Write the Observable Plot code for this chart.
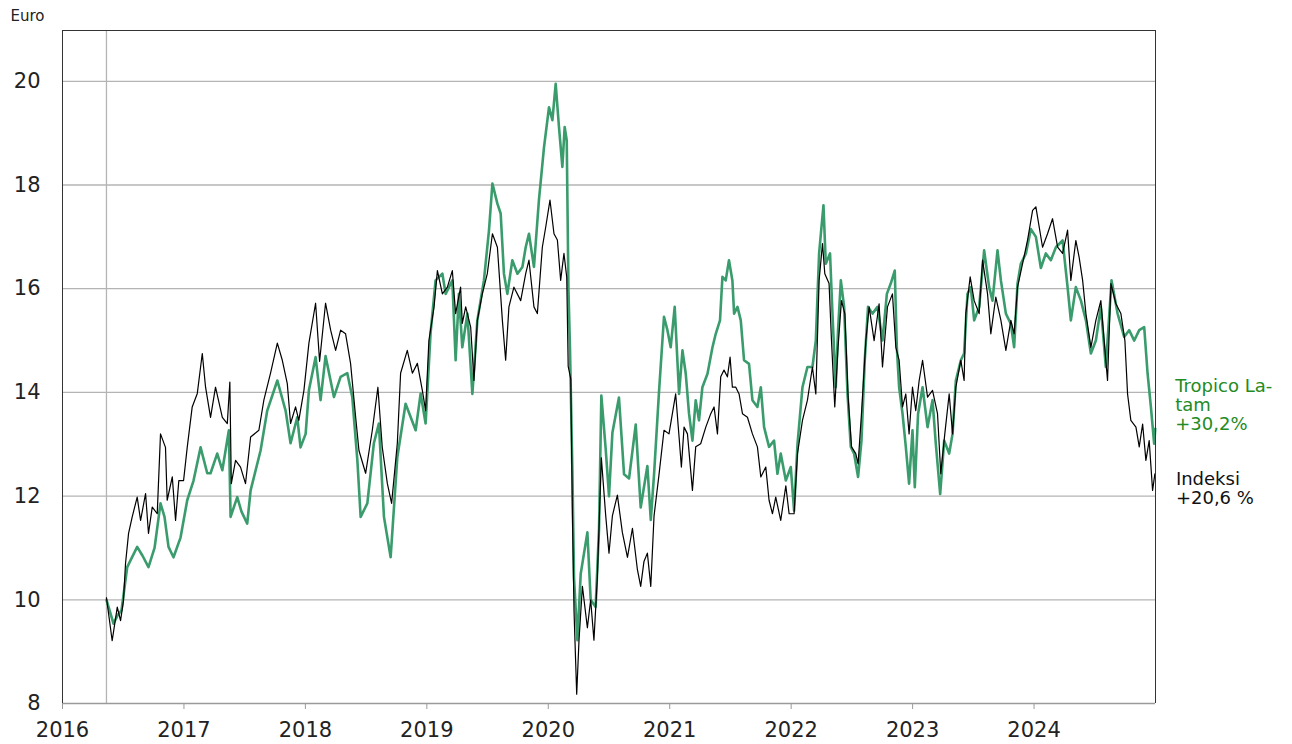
<!DOCTYPE html>
<html><head><meta charset="utf-8">
<script src="https://cdn.jsdelivr.net/npm/d3@7"></script>
<script src="https://cdn.jsdelivr.net/npm/@observablehq/plot@0.6"></script>
<style>body{margin:0;background:#fff;} #chart{width:1292px;height:744px;}</style>
</head><body><div id="chart"></div>
<script>
const yTicks = [8, 10, 12, 14, 16, 18, 20];
const gridTicks = [10, 12, 14, 16, 18, 20];
const xTicks = [2016, 2017, 2018, 2019, 2020, 2021, 2022, 2023, 2024];
const unitLabel = "Euro";
const fundLabel = "Tropico La-\ntam\n+30,2%";
const indexLabel = "Indeksi\n+20,6 %";

// [decimal year, euro]
const indexSeries = [[2016.362,10.04],[2016.409,9.21],[2016.451,9.86],[2016.478,9.6],[2016.502,9.98],[2016.519,10.7],[2016.544,11.28],[2016.574,11.6],[2016.615,11.98],[2016.643,11.53],[2016.684,12.05],[2016.708,11.28],[2016.739,11.79],[2016.780,11.66],[2016.807,13.2],[2016.848,12.94],[2016.862,11.92],[2016.904,12.37],[2016.931,11.53],[2016.958,12.3],[2016.997,12.3],[2017.027,12.94],[2017.068,13.72],[2017.110,13.98],[2017.151,14.75],[2017.178,14.1],[2017.219,13.52],[2017.260,14.1],[2017.316,13.52],[2017.357,13.4],[2017.378,14.2],[2017.390,12.24],[2017.425,12.69],[2017.466,12.56],[2017.507,12.24],[2017.549,13.14],[2017.617,13.27],[2017.658,13.85],[2017.713,14.37],[2017.769,14.95],[2017.810,14.62],[2017.851,14.17],[2017.878,13.4],[2017.919,13.72],[2017.946,13.46],[2017.988,14.04],[2018.029,14.95],[2018.084,15.72],[2018.117,14.6],[2018.166,15.72],[2018.208,15.2],[2018.249,14.81],[2018.290,15.2],[2018.331,15.13],[2018.372,14.56],[2018.414,13.52],[2018.441,12.88],[2018.496,12.44],[2018.551,13.27],[2018.597,14.1],[2018.633,12.94],[2018.675,12.24],[2018.710,11.86],[2018.757,13.02],[2018.784,14.37],[2018.839,14.81],[2018.881,14.37],[2018.922,14.56],[2018.963,14.04],[2018.990,13.65],[2019.017,15.0],[2019.059,15.64],[2019.087,16.35],[2019.128,15.9],[2019.169,16.03],[2019.210,16.35],[2019.237,15.52],[2019.278,16.03],[2019.292,15.33],[2019.320,15.65],[2019.361,15.26],[2019.388,14.23],[2019.416,15.39],[2019.457,15.9],[2019.498,16.29],[2019.540,17.06],[2019.581,16.8],[2019.622,15.39],[2019.649,14.62],[2019.676,15.65],[2019.717,16.03],[2019.773,15.77],[2019.814,16.29],[2019.841,16.55],[2019.882,15.65],[2019.910,15.52],[2019.951,16.8],[2019.979,17.19],[2020.014,17.71],[2020.047,17.06],[2020.075,16.94],[2020.102,16.16],[2020.129,16.68],[2020.152,16.22],[2020.164,14.5],[2020.185,14.26],[2020.199,11.62],[2020.212,9.78],[2020.234,8.18],[2020.253,9.22],[2020.281,10.26],[2020.322,9.46],[2020.349,10.0],[2020.376,9.22],[2020.404,10.42],[2020.437,12.74],[2020.473,11.62],[2020.500,10.9],[2020.528,11.62],[2020.569,12.02],[2020.610,11.3],[2020.652,10.82],[2020.693,11.38],[2020.734,10.58],[2020.761,10.26],[2020.788,10.74],[2020.816,10.9],[2020.844,10.26],[2020.871,11.62],[2020.912,12.42],[2020.953,13.27],[2020.994,13.2],[2021.049,13.97],[2021.077,13.14],[2021.096,12.56],[2021.118,13.33],[2021.146,13.2],[2021.187,12.11],[2021.214,12.95],[2021.255,13.01],[2021.297,13.33],[2021.338,13.59],[2021.365,13.72],[2021.393,13.2],[2021.420,14.3],[2021.447,14.43],[2021.475,14.3],[2021.497,14.68],[2021.516,14.1],[2021.544,14.1],[2021.571,13.97],[2021.599,13.59],[2021.640,13.52],[2021.681,13.2],[2021.722,12.95],[2021.750,12.37],[2021.791,12.56],[2021.818,11.92],[2021.846,11.66],[2021.873,11.98],[2021.914,11.53],[2021.956,12.2],[2021.983,11.66],[2022.024,11.66],[2022.052,12.82],[2022.093,13.46],[2022.134,13.85],[2022.175,14.49],[2022.203,13.97],[2022.230,16.16],[2022.258,16.87],[2022.277,16.29],[2022.312,16.1],[2022.332,15.0],[2022.359,13.72],[2022.386,14.87],[2022.414,15.77],[2022.442,15.52],[2022.469,13.91],[2022.497,12.95],[2022.532,12.82],[2022.551,12.62],[2022.579,13.59],[2022.615,15.0],[2022.642,15.65],[2022.683,15.0],[2022.724,15.71],[2022.752,14.49],[2022.793,15.65],[2022.834,15.9],[2022.862,14.87],[2022.889,14.62],[2022.917,13.72],[2022.944,13.97],[2022.971,13.2],[2022.999,14.1],[2023.026,13.65],[2023.054,14.23],[2023.082,14.62],[2023.123,13.91],[2023.164,14.04],[2023.205,13.59],[2023.232,12.43],[2023.265,13.2],[2023.301,13.97],[2023.329,13.2],[2023.356,14.1],[2023.397,14.62],[2023.424,14.23],[2023.438,15.52],[2023.474,16.23],[2023.507,15.77],[2023.548,15.52],[2023.576,16.55],[2023.617,15.9],[2023.644,15.13],[2023.685,15.84],[2023.727,15.39],[2023.768,14.81],[2023.809,15.39],[2023.836,15.13],[2023.864,16.03],[2023.905,16.48],[2023.946,16.93],[2023.988,17.51],[2024.015,17.58],[2024.070,16.8],[2024.111,17.06],[2024.152,17.35],[2024.194,16.8],[2024.235,16.68],[2024.276,17.13],[2024.303,16.16],[2024.344,16.93],[2024.371,16.61],[2024.400,16.16],[2024.427,15.52],[2024.468,14.87],[2024.509,15.39],[2024.550,15.77],[2024.577,15.0],[2024.605,14.23],[2024.633,16.1],[2024.674,15.71],[2024.715,15.52],[2024.748,15.0],[2024.770,13.97],[2024.797,13.46],[2024.839,13.33],[2024.866,12.95],[2024.894,13.39],[2024.921,12.69],[2024.948,13.07],[2024.976,12.11],[2024.995,12.43]];

const fundSeries = [[2016.362,10.0],[2016.420,9.54],[2016.453,9.7],[2016.486,9.8],[2016.533,10.63],[2016.568,10.8],[2016.615,11.02],[2016.659,10.85],[2016.708,10.63],[2016.758,11.0],[2016.807,11.86],[2016.840,11.6],[2016.873,11.02],[2016.914,10.82],[2016.972,11.2],[2017.027,11.92],[2017.079,12.3],[2017.137,12.94],[2017.192,12.44],[2017.219,12.44],[2017.274,12.82],[2017.316,12.5],[2017.370,13.27],[2017.384,11.6],[2017.439,11.98],[2017.474,11.7],[2017.521,11.47],[2017.549,12.11],[2017.631,12.88],[2017.686,13.65],[2017.769,14.23],[2017.837,13.65],[2017.878,13.02],[2017.933,13.52],[2017.960,12.94],[2018.002,13.2],[2018.029,14.04],[2018.084,14.68],[2018.125,13.85],[2018.166,14.7],[2018.235,13.91],[2018.290,14.3],[2018.345,14.37],[2018.386,13.91],[2018.428,12.69],[2018.455,11.6],[2018.510,11.86],[2018.564,13.02],[2018.605,13.4],[2018.647,11.6],[2018.702,10.82],[2018.757,12.75],[2018.825,13.78],[2018.908,13.27],[2018.949,13.98],[2018.990,13.4],[2019.031,15.15],[2019.072,16.16],[2019.128,16.29],[2019.155,15.9],[2019.210,16.16],[2019.237,14.62],[2019.264,15.9],[2019.292,14.87],[2019.334,15.52],[2019.375,13.97],[2019.416,15.39],[2019.470,16.16],[2019.512,17.13],[2019.540,18.03],[2019.581,17.64],[2019.608,17.45],[2019.635,16.29],[2019.663,15.9],[2019.704,16.55],[2019.746,16.29],[2019.787,16.42],[2019.814,16.8],[2019.841,17.06],[2019.882,16.42],[2019.923,17.71],[2019.965,18.73],[2020.006,19.5],[2020.034,19.25],[2020.061,19.95],[2020.088,19.12],[2020.116,18.35],[2020.135,19.12],[2020.152,18.86],[2020.166,16.0],[2020.179,14.82],[2020.199,12.42],[2020.212,10.42],[2020.240,9.22],[2020.267,10.5],[2020.322,11.3],[2020.349,10.0],[2020.390,9.86],[2020.418,11.38],[2020.437,13.94],[2020.473,12.9],[2020.500,12.0],[2020.528,13.22],[2020.582,13.9],[2020.624,12.42],[2020.665,12.34],[2020.720,13.38],[2020.761,11.78],[2020.816,12.58],[2020.844,11.54],[2020.871,12.42],[2020.912,14.02],[2020.953,15.46],[2020.981,15.2],[2021.008,14.87],[2021.041,15.65],[2021.077,13.97],[2021.105,14.81],[2021.132,14.36],[2021.159,13.59],[2021.187,13.07],[2021.214,13.85],[2021.241,13.46],[2021.269,14.1],[2021.311,14.36],[2021.352,14.87],[2021.379,15.13],[2021.414,15.39],[2021.434,16.23],[2021.461,16.16],[2021.488,16.55],[2021.516,16.16],[2021.530,15.52],[2021.558,15.65],[2021.585,15.39],[2021.612,14.62],[2021.653,14.55],[2021.681,13.85],[2021.722,13.72],[2021.750,14.1],[2021.777,13.33],[2021.818,12.95],[2021.859,13.07],[2021.887,12.43],[2021.914,12.82],[2021.956,12.3],[2021.997,12.56],[2022.024,11.72],[2022.052,13.0],[2022.093,14.1],[2022.134,14.49],[2022.175,14.49],[2022.203,15.0],[2022.230,16.68],[2022.266,17.61],[2022.285,16.48],[2022.320,16.68],[2022.340,15.52],[2022.367,14.1],[2022.386,15.2],[2022.409,16.16],[2022.436,15.65],[2022.464,13.97],[2022.491,12.95],[2022.518,12.82],[2022.551,12.37],[2022.579,13.07],[2022.606,14.62],[2022.633,15.65],[2022.670,15.52],[2022.711,15.65],[2022.752,15.0],[2022.788,15.9],[2022.820,16.1],[2022.853,16.35],[2022.870,14.87],[2022.889,14.1],[2022.917,13.59],[2022.944,12.95],[2022.971,12.24],[2022.999,13.27],[2023.018,12.17],[2023.045,13.59],[2023.082,14.1],[2023.123,13.33],[2023.164,13.85],[2023.191,13.01],[2023.227,12.04],[2023.260,13.07],[2023.301,12.82],[2023.329,13.2],[2023.356,14.23],[2023.397,14.62],[2023.424,14.75],[2023.452,15.9],[2023.479,16.03],[2023.507,15.39],[2023.548,15.65],[2023.589,16.74],[2023.630,16.03],[2023.658,15.77],[2023.699,16.74],[2023.727,16.16],[2023.768,15.52],[2023.809,15.32],[2023.836,14.87],[2023.864,16.1],[2023.891,16.48],[2023.933,16.68],[2023.974,17.15],[2024.015,17.0],[2024.056,16.4],[2024.097,16.68],[2024.138,16.55],[2024.180,16.8],[2024.235,16.93],[2024.276,16.03],[2024.303,15.39],[2024.344,16.03],[2024.386,15.77],[2024.427,15.39],[2024.468,14.75],[2024.509,15.0],[2024.550,15.65],[2024.591,14.49],[2024.638,16.16],[2024.688,15.52],[2024.742,15.07],[2024.783,15.2],[2024.825,15.0],[2024.866,15.2],[2024.907,15.26],[2024.935,14.36],[2024.962,13.72],[2024.989,13.01],[2024.998,13.3]];

const xDomain = [2016, 2025];
const yDomain = [8, 20.98];

const chart = Plot.plot({
  width: 1292,
  height: 744,
  marginLeft: 62,
  marginRight: 137,
  marginTop: 30,
  marginBottom: 41,
  x: {domain: xDomain},
  y: {domain: yDomain},
  style: {fontFamily: "'DejaVu Sans', Verdana, sans-serif", background: "#fff", color: "#222", overflow: "visible"},
  marks: [
    Plot.gridY(gridTicks, {stroke: "#b4b4b4", strokeOpacity: 1, strokeWidth: 1.3}),
    Plot.ruleX([fundSeries[0][0]], {stroke: "#b4b4b4", strokeWidth: 1.3}),
    Plot.line(fundSeries, {x: d => d[0], y: d => d[1], stroke: "#3a9c6c", strokeWidth: 2.6, strokeLinejoin: "round"}),
    Plot.line(indexSeries, {x: d => d[0], y: d => d[1], stroke: "#000", strokeWidth: 1.2}),
    Plot.ruleY([yDomain[0]], {stroke: "#9a9a9a", strokeWidth: 1.5}),
    Plot.ruleY([yDomain[1]], {stroke: "#333", strokeWidth: 1}),
    Plot.ruleX([xDomain[0]], {stroke: "#333", strokeWidth: 1}),
    Plot.ruleX([xDomain[1]], {stroke: "#333", strokeWidth: 1}),
    Plot.axisX({ticks: xTicks, tickFormat: d => String(d), tickSize: 6, tickPadding: 13, fontSize: 21, stroke: "#999", fill: "#222", label: null}),
    Plot.axisY({ticks: yTicks, tickSize: 0, tickPadding: 22, fontSize: 21, fill: "#222", label: null}),
    Plot.text([fundSeries[fundSeries.length - 1]], {x: d => d[0], y: d => d[1], text: () => fundLabel, dx: 20, dy: -24, textAnchor: "start", lineAnchor: "middle", lineHeight: 1.06, fontSize: 18, fill: "#238b23"}),
    Plot.text([indexSeries[indexSeries.length - 1]], {x: d => d[0], y: d => d[1], text: () => indexLabel, dx: 21, dy: 15, textAnchor: "start", lineAnchor: "middle", lineHeight: 1.06, fontSize: 18, fill: "#111"}),
    Plot.text([unitLabel], {frameAnchor: "top-left", text: d => d, dx: -52, dy: -14, textAnchor: "start", lineAnchor: "middle", fontSize: 15, fill: "#222"})
  ]
});
document.getElementById("chart").appendChild(chart);
</script>
</body></html>
